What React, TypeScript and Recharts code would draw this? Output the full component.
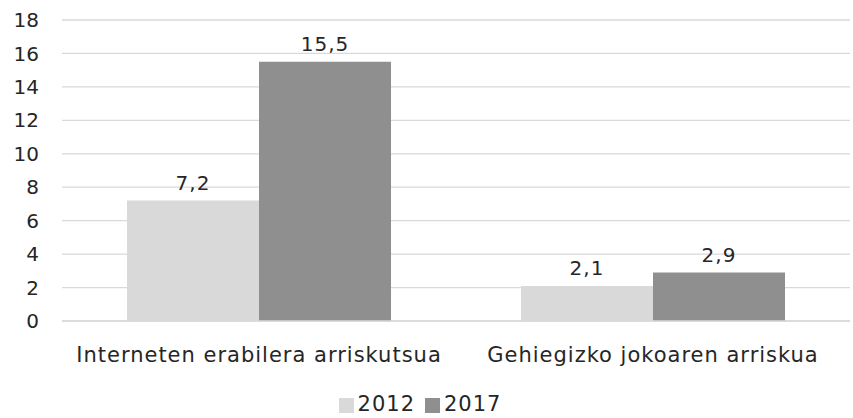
import { BarChart, Bar, XAxis, YAxis, CartesianGrid, Legend, LabelList } from "recharts";

const categories = ["Interneten erabilera arriskutsua", "Gehiegizko jokoaren arriskua"];
const values2012 = [7.2, 2.1];
const values2017 = [15.5, 2.9];
const yTicks = [0, 2, 4, 6, 8, 10, 12, 14, 16, 18];

const data = categories.map((name, i) => ({
    name,
    y2012: values2012[i],
    y2017: values2017[i],
}));

const font = "'DejaVu Sans', sans-serif";
const fmt = (v: any) => String(v).replace(".", ",");

export default function App() {
    return (
        <div style={{ position: "absolute", left: 0, top: 0, background: "#fff" }}>
            <BarChart
                width={853}
                height={418}
                data={data}
                margin={{ top: 20, right: 3, left: 0, bottom: 0 }}
                barGap={0}
                barCategoryGap="16.5%"
                style={{ fontFamily: font }}
            >
                <CartesianGrid vertical={false} stroke="#D9D9D9" strokeWidth={1.3} />
                <XAxis
                    dataKey="name"
                    height={71}
                    tickLine={false}
                    axisLine={{ stroke: "#D9D9D9", strokeWidth: 1.3 }}
                    tickMargin={20}
                    tick={{ fill: "#262626", fontSize: 21, fontFamily: font, letterSpacing: 1 }}
                    interval={0}
                />
                <YAxis
                    width={62}
                    domain={[0, 18]}
                    ticks={yTicks}
                    tickLine={false}
                    axisLine={false}
                    tickMargin={17}
                    tick={{ fill: "#262626", fontSize: 20, fontFamily: font }}
                />
                <Legend
                    verticalAlign="bottom"
                    height={26}
                    iconType="square"
                    iconSize={15}
                    wrapperStyle={{ fontSize: 21, fontFamily: font, color: "#262626", letterSpacing: 1 }}
                    formatter={(value: any) => <span style={{ color: "#262626" }}>{value}</span>}
                />
                <Bar dataKey="y2012" name="2012" fill="#D9D9D9" isAnimationActive={false}>
                    <LabelList dataKey="y2012" position="top" offset={11} formatter={fmt} fill="#262626" fontSize={20} fontFamily={font} letterSpacing={1} />
                </Bar>
                <Bar dataKey="y2017" name="2017" fill="#8F8F8F" isAnimationActive={false}>
                    <LabelList dataKey="y2017" position="top" offset={11} formatter={fmt} fill="#262626" fontSize={20} fontFamily={font} letterSpacing={1} />
                </Bar>
            </BarChart>
        </div>
    );
}
